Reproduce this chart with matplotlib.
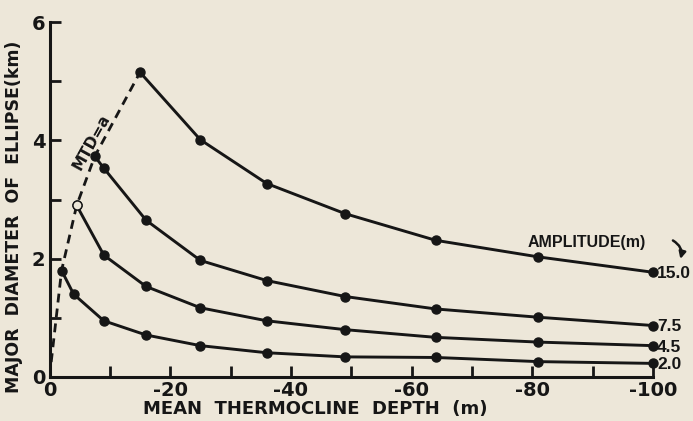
import matplotlib.pyplot as plt
import numpy as np

# mean thermocline depth (m), values plotted as negative depths
depth_20 = [2, 4, 9, 16, 25, 36, 49, 64, 81, 100]
diam_20 = [1.80, 1.40, 0.95, 0.71, 0.53, 0.41, 0.34, 0.33, 0.26, 0.23]

depth_45 = [4.5, 9, 16, 25, 36, 49, 64, 81, 100]
diam_45 = [2.90, 2.06, 1.53, 1.17, 0.95, 0.80, 0.67, 0.59, 0.53]

depth_75 = [7.5, 9, 16, 25, 36, 49, 64, 81, 100]
diam_75 = [3.73, 3.53, 2.65, 1.97, 1.63, 1.36, 1.15, 1.01, 0.87]

depth_150 = [15, 25, 36, 49, 64, 81, 100]
diam_150 = [5.15, 4.01, 3.27, 2.76, 2.31, 2.03, 1.77]

amplitudes = ["2.0", "4.5", "7.5", "15.0"]

# MTD = a line
mtd_depth = [0, 2, 4.5, 7.5, 15]
mtd_diam = [0, 1.80, 2.90, 3.73, 5.15]

INK = "#161616"
PAPER = "#ede7d9"
NARROW = ["Liberation Sans", "DejaVu Sans"]


def main():
    fig = plt.figure(figsize=(6.93, 4.21), dpi=100, facecolor=PAPER)
    ax = fig.add_axes([49.5 / 693, 44 / 421, 603.5 / 693, 355 / 421])
    ax.set_facecolor(PAPER)

    ax.plot(-np.array(mtd_depth), mtd_diam, color=INK, linestyle=(0, (3.2, 2.2)),
            linewidth=2.0, zorder=2)

    series = [(depth_20, diam_20), (depth_45, diam_45),
              (depth_75, diam_75), (depth_150, diam_150)]
    for (d, v), amp in zip(series, amplitudes):
        x = -np.array(d)
        ax.plot(x, v, color=INK, linewidth=2.1, marker='o', markersize=6.5,
                clip_on=False, zorder=3)
        ax.annotate(amp, (x[-1], v[-1]), xytext=(3, -1), textcoords="offset points",
                    ha="left", va="center", fontsize=12.5, fontweight="bold",
                    family=NARROW, color=INK, annotation_clip=False)

    # open circle for 4.5 on the MTD line
    ax.plot(-depth_45[0], diam_45[0], marker='o', markersize=6.5, color=INK,
            markerfacecolor=PAPER, zorder=4)

    ax.text(-6.9, 3.97, "MTD=a", rotation=61, fontsize=11, fontweight="bold",
            color=INK, ha="center", va="center")

    ax.text(-79.3, 2.27, "AMPLITUDE(m)", fontsize=11.5, fontweight="bold",
            family=NARROW, color=INK, ha="left", va="center")
    ax.annotate("", xy=(-104.4, 1.95), xytext=(-102.9, 2.33),
                arrowprops=dict(arrowstyle="-|>", color=INK, lw=1.8,
                                connectionstyle="arc3,rad=-0.45",
                                mutation_scale=10),
                annotation_clip=False)

    ax.set_xlim(0, -100)
    ax.set_ylim(0, 6)
    ax.set_xticks(np.arange(0, -101, -10))
    ax.set_xticklabels(["0" if t == 0 else (str(t) if t % 20 == 0 else "")
                        for t in range(0, -101, -10)])
    ax.set_yticks(np.arange(0, 7, 1))
    ax.set_yticklabels([str(t) if t % 2 == 0 else "" for t in range(7)])

    for side in ("top", "right"):
        ax.spines[side].set_visible(False)
    for side in ("left", "bottom"):
        ax.spines[side].set_linewidth(2.2)
        ax.spines[side].set_color(INK)
    ax.tick_params(direction="in", length=8, width=2, color=INK,
                   labelsize=14, labelcolor=INK, pad=3)
    for lab in ax.get_xticklabels() + ax.get_yticklabels():
        lab.set_fontweight("bold")

    ax.set_xlabel("MEAN  THERMOCLINE  DEPTH  (m)", fontsize=13,
                  fontweight="bold", color=INK)
    ax.set_ylabel("MAJOR  DIAMETER  OF  ELLIPSE(km)", fontsize=12.5,
                  fontweight="bold", color=INK)
    ax.xaxis.set_label_coords(0.44, -0.066)
    ax.yaxis.set_label_coords(-0.044, 0.45)

    fig.savefig("out.png", dpi=100, facecolor=PAPER)


if __name__ == "__main__":
    main()
